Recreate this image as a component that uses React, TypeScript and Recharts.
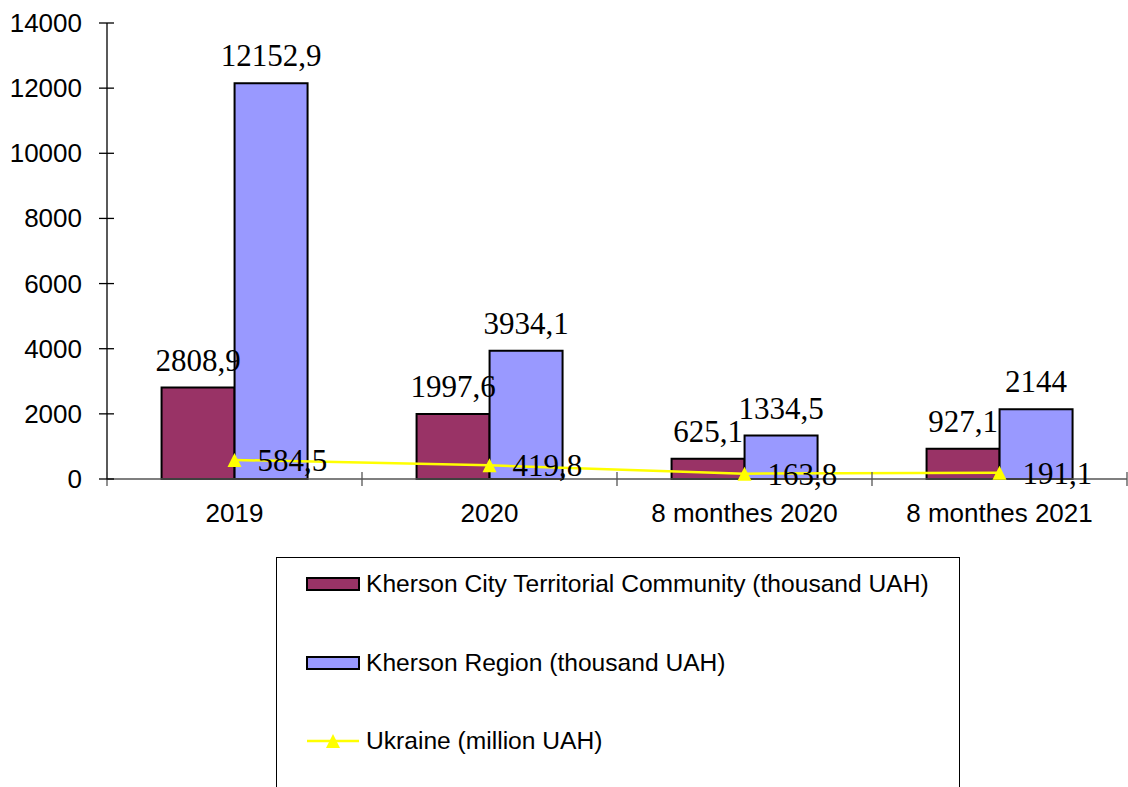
import React from 'react';
import { ComposedChart, Bar, Line, XAxis, YAxis, Legend, LabelList } from 'recharts';

const categories = ['2019', '2020', '8 monthes 2020', '8 monthes 2021'];
const cityValues = [2808.9, 1997.6, 625.1, 927.1];
const regionValues = [12152.9, 3934.1, 1334.5, 2144];
const ukraineValues = [584.5, 419.8, 163.8, 191.1];
const yTicks = [0, 2000, 4000, 6000, 8000, 10000, 12000, 14000];
const seriesNames = [
  'Kherson City Territorial Community (thousand UAH)',
  'Kherson Region (thousand UAH)',
  'Ukraine (million UAH)',
];

const CITY_COLOR = '#993366';
const REGION_COLOR = '#9999FF';
const LINE_COLOR = '#FFFF00';
const SANS = '"Liberation Sans", Arial, sans-serif';
const SERIF = '"Liberation Serif", "Times New Roman", serif';

const data = categories.map((c, i) => ({
  category: c,
  city: cityValues[i],
  region: regionValues[i],
  ukraine: ukraineValues[i],
}));

const fmt = (v: any) => String(v).replace('.', ',');

const YTick = (props: any) => {
  const { x, y, payload } = props;
  return (
    <g>
      <line x1={x - 8} x2={x + 7} y1={y} y2={y} stroke="#000" strokeWidth={1.3} />
      <text x={x - 25} y={y} dy={9} textAnchor="end" fontSize={26} fontFamily={SANS} fill="#000">
        {payload.value}
      </text>
    </g>
  );
};

const XTick = (props: any) => {
  const { x, y, payload, index, visibleTicksCount } = props;
  const half = payload && payload.offset ? payload.offset : 127.5;
  return (
    <g>
      <line x1={x - half} x2={x - half} y1={y - 7} y2={y + 7} stroke="#555" strokeWidth={1.3} />
      {index === visibleTicksCount - 1 && (
        <line x1={x + half} x2={x + half} y1={y - 7} y2={y + 7} stroke="#555" strokeWidth={1.3} />
      )}
      <text x={x} y={y} dy={43} textAnchor="middle" fontSize={26} fontFamily={SANS} fill="#000">
        {payload.value}
      </text>
    </g>
  );
};

const Triangle = (props: any) => {
  const { cx, cy } = props;
  if (cx == null || cy == null) return null;
  return <path d={`M${cx},${cy - 7} L${cx + 7},${cy + 7} L${cx - 7},${cy + 7} Z`} fill={LINE_COLOR} />;
};

const LegendBox = () => {
  const colors = [CITY_COLOR, REGION_COLOR];
  return (
    <div
      style={{
        boxSizing: 'border-box',
        width: 684,
        height: 240,
        border: '1px solid #000',
        borderBottom: 'none',
        position: 'relative',
        background: '#fff',
        fontFamily: SANS,
        fontSize: 24.6,
        color: '#000',
      }}
    >
      {seriesNames.map((name, i) => (
        <div
          key={name}
          style={{
            position: 'absolute',
            left: 29,
            top: 26 + i * 78.5 - 16,
            height: 32,
            display: 'flex',
            alignItems: 'center',
            whiteSpace: 'nowrap',
          }}
        >
          <svg width={54} height={16} style={{ display: 'block', marginRight: 6 }}>
            {i < 2 ? (
              <rect x={1} y={2} width={52} height={12} fill={colors[i]} stroke="#000" strokeWidth={2} />
            ) : (
              <g>
                <line x1={1} x2={53} y1={8} y2={8} stroke={LINE_COLOR} strokeWidth={2.5} />
                <path d="M27,1 L34,15 L20,15 Z" fill={LINE_COLOR} />
              </g>
            )}
          </svg>
          <span>{name}</span>
        </div>
      ))}
    </div>
  );
};

export default function App() {
  return (
    <div style={{ position: 'absolute', left: 0, top: 0, background: '#fff' }}>
      <ComposedChart
        width={1128}
        height={787}
        data={data}
        margin={{ top: 23, right: 1, left: 0, bottom: 248 }}
        barGap={0}
        barCategoryGap="21.4%"
      >
        <XAxis
          dataKey="category"
          height={60}
          tickSize={0}
          tickMargin={0}
          tickLine={false}
          axisLine={{ stroke: '#555', strokeWidth: 1.3 }}
          tick={<XTick />}
          interval={0}
        />
        <YAxis
          width={107}
          domain={[0, 14000]}
          ticks={yTicks}
          tickSize={0}
          tickMargin={0}
          tickLine={false}
          axisLine={{ stroke: '#000', strokeWidth: 1.3 }}
          tick={<YTick />}
          interval={0}
        />
        <Legend
          layout="vertical"
          align="center"
          verticalAlign="middle"
          wrapperStyle={{ left: 276, top: 557, width: 684, height: 240 }}
          content={() => <LegendBox />}
        />
        <Bar dataKey="city" name={seriesNames[0]} fill={CITY_COLOR} stroke="#000" strokeWidth={2} isAnimationActive={false}>
          <LabelList dataKey="city" position="top" offset={17} formatter={fmt} fill="#000" fontSize={31} fontFamily={SERIF} />
        </Bar>
        <Bar dataKey="region" name={seriesNames[1]} fill={REGION_COLOR} stroke="#000" strokeWidth={2} isAnimationActive={false}>
          <LabelList dataKey="region" position="top" offset={17} formatter={fmt} fill="#000" fontSize={31} fontFamily={SERIF} />
        </Bar>
        <Line
          dataKey="ukraine"
          name={seriesNames[2]}
          stroke={LINE_COLOR}
          strokeWidth={2.5}
          dot={<Triangle />}
          activeDot={false}
          isAnimationActive={false}
        >
          <LabelList dataKey="ukraine" position="right" offset={23} formatter={fmt} fill="#000" fontSize={31} fontFamily={SERIF} />
        </Line>
      </ComposedChart>
    </div>
  );
}
